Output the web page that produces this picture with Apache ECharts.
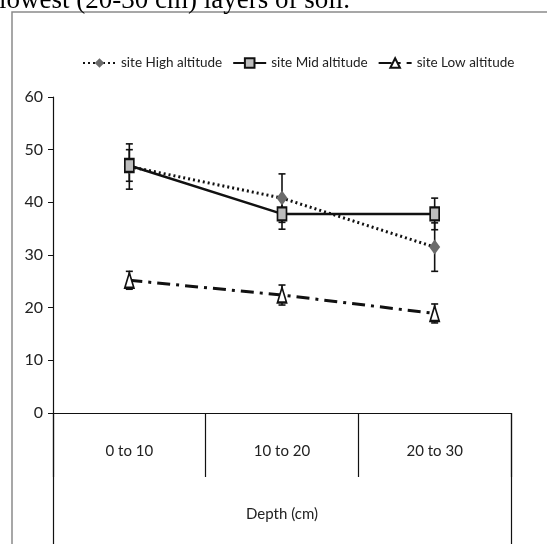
<!DOCTYPE html>
<html><head><meta charset="utf-8">
<script src="https://cdn.jsdelivr.net/npm/echarts@6/dist/echarts.min.js"></script>
<style>html,body{margin:0;padding:0;background:#fff}#c{width:547px;height:544px}</style>
</head><body><div id="c"></div>
<script>
const categories = ['0 to 10', '10 to 20', '20 to 30'];
const axisTitle = ['Depth (cm)'];
const highVals = [46.8, 40.8, 31.5];
const highErr = [4.3, 4.6, 4.6];
const midVals = [47.0, 37.8, 37.8];
const midErr = [3.0, 2.9, 3.0];
const lowVals = [25.2, 22.4, 18.9];
const lowErr = [1.7, 1.9, 1.8];
const yTicks = { min: 0, max: 60, interval: 10 };

const FONT = "Lato, 'Open Sans', sans-serif";

function errSeries(name, vals, errs) {
  return {
    type: 'custom', name: name + '_err', silent: true, z: 1,
    data: vals.map((v, i) => [i, v - errs[i], v + errs[i]]),
    renderItem: function (params, api) {
      const lo = api.coord([api.value(0), api.value(1)]);
      const hi = api.coord([api.value(0), api.value(2)]);
      const w = 3.5;
      const st = { stroke: '#111', lineWidth: 1.6 };
      return { type: 'group', children: [
        { type: 'line', shape: { x1: lo[0], y1: lo[1], x2: hi[0], y2: hi[1] }, style: st },
        { type: 'line', shape: { x1: lo[0] - w, y1: lo[1], x2: lo[0] + w, y2: lo[1] }, style: st },
        { type: 'line', shape: { x1: hi[0] - w, y1: hi[1], x2: hi[0] + w, y2: hi[1] }, style: st }
      ]};
    }
  };
}

const chart = echarts.init(document.getElementById('c'));
chart.setOption({
  animation: false,
  textStyle: { fontFamily: FONT },
  graphic: [
    { type: 'rect', shape: { x: 12, y: 12, width: 560, height: 560 }, style: { fill: 'none', stroke: '#8a8a8a', lineWidth: 1.5 }, z: -1 },
    { type: 'text', x: -1, y: 14, style: { text: 'lowest (20-30 cm) layers of soil.', font: "27px 'Liberation Serif', serif", fill: '#000', verticalAlign: 'bottom' } }
  ],
  legend: {
    left: 77, top: 51, itemWidth: 33, itemHeight: 12, itemGap: 10,
    textStyle: { fontFamily: FONT, fontSize: 13.5, color: '#222' },
    data: ['site High altitude', 'site Mid altitude', 'site Low altitude']
  },
  grid: { left: 53, right: 36, top: 97, bottom: 131 },
  xAxis: [
    { type: 'category', data: categories, boundaryGap: true,
      axisLine: { show: true, lineStyle: { color: '#111', width: 1.2 } },
      axisTick: { show: true, interval: 0, length: 64, lineStyle: { color: '#111', width: 1.2 } },
      axisLabel: { margin: 31, fontSize: 15, color: '#222', fontFamily: FONT } },
    { type: 'category', data: axisTitle, position: 'bottom', boundaryGap: true,
      axisLine: { show: false },
      axisTick: { show: true, interval: 0, length: 131, lineStyle: { color: '#111', width: 1.2 } },
      axisLabel: { margin: 94, fontSize: 15, color: '#222', fontFamily: FONT } }
  ],
  yAxis: { type: 'value', min: yTicks.min, max: yTicks.max, interval: yTicks.interval,
    axisLine: { show: true, lineStyle: { color: '#111', width: 1.2 } },
    axisTick: { show: true, length: 5, lineStyle: { color: '#111' } },
    splitLine: { show: false },
    axisLabel: { fontSize: 16, color: '#222', margin: 10, fontFamily: FONT } },
  series: [
    errSeries('high', highVals, highErr),
    errSeries('mid', midVals, midErr),
    errSeries('low', lowVals, lowErr),
    { name: 'site High altitude', type: 'line', data: highVals, z: 3,
      symbol: 'diamond', symbolSize: [11, 15],
      lineStyle: { type: [2, 3], color: '#111', width: 3 },
      itemStyle: { color: '#6b6b6b', borderColor: '#6b6b6b', borderWidth: 0 } },
    { name: 'site Mid altitude', type: 'line', data: midVals, z: 4,
      symbol: 'rect', symbolSize: [9, 13],
      lineStyle: { type: 'solid', color: '#111', width: 2.5 },
      itemStyle: { color: '#bdbdbd', borderColor: '#111', borderWidth: 2 } },
    { name: 'site Low altitude', type: 'line', data: lowVals, z: 3,
      symbol: 'triangle', symbolSize: [9, 15],
      lineStyle: { type: [13, 6, 3, 6], color: '#111', width: 3 },
      itemStyle: { color: '#fff', borderColor: '#111', borderWidth: 2 } }
  ]
});
</script></body></html>
